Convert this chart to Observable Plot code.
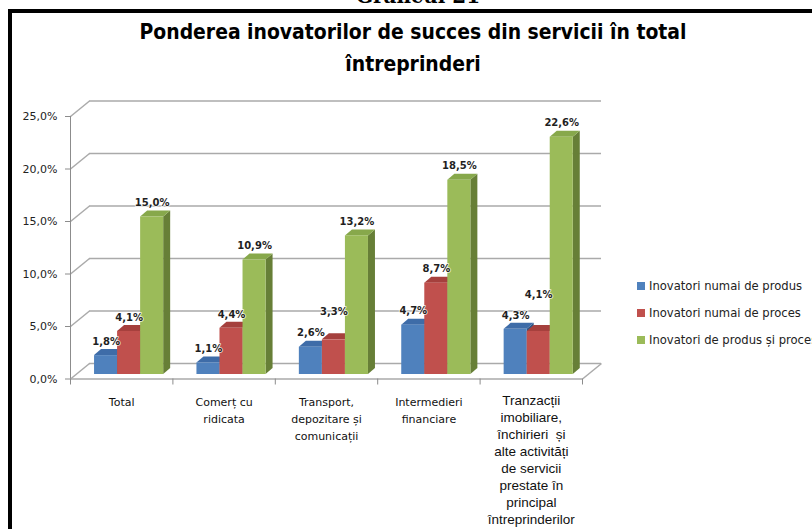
<!DOCTYPE html>
<html>
<head>
<meta charset="utf-8">
<script src="https://cdn.jsdelivr.net/npm/d3@7"></script>
<script src="https://cdn.jsdelivr.net/npm/@observablehq/plot@0.6"></script>
<style>
  body { margin: 0; background: #fff; }
  #wrap { position: relative; width: 812px; height: 529px; overflow: hidden; background: #fff; }
  #graf { position: absolute; left: 0; top: -14px; width: 836px; text-align: center; font: bold 20px/20px "DejaVu Serif", serif; color: #000; }
  #frame { position: absolute; left: 8px; top: 9px; width: 1000px; height: 800px; border: 4px solid #000; box-sizing: border-box; }
  #title { position: absolute; left: 0; top: 16px; width: 826px; text-align: center; font: bold 22px/32px "DejaVu Sans Condensed", "DejaVu Sans", sans-serif; font-stretch: condensed; color: #000; }
  #title div { transform: scaleX(0.95); }
  #chart { position: absolute; left: 0; top: 0; }
  #legend { position: absolute; left: 637px; top: 279px; font: 11.6px "DejaVu Sans", sans-serif; color: #222; white-space: nowrap; }
  #legend div { height: 27px; display: flex; align-items: flex-start; }
  #legend span.sw { display: inline-block; width: 8px; height: 8px; margin: 3px 4px 0 0; flex: none; }
</style>
</head>
<body>
<div id="wrap">
  <div id="frame"></div>
  <div id="graf">Graficul 21</div>
  <div id="title"><div>Ponderea inovatorilor de succes din servicii în total</div><div>întreprinderi</div></div>
  <div id="chart"></div>
  <div id="legend"></div>
</div>
<script>
// ---- data ----
const categories = [
  "Total",
  "Comerț cu\nridicata",
  "Transport,\ndepozitare și\ncomunicații",
  "Intermedieri\nfinanciare",
  "Tranzacții\nimobiliare,\nînchirieri  și\nalte activități\nde servicii\nprestate în\nprincipal\nîntreprinderilor"
];
const seriesNames = ["Inovatori numai de produs", "Inovatori numai de proces", "Inovatori de produs și proces"];
const inovatoriProdus = [1.8, 1.1, 2.6, 4.7, 4.3];
const inovatoriProces = [4.1, 4.4, 3.3, 8.7, 4.1];
const inovatoriProdusSiProces = [15.0, 10.9, 13.2, 18.5, 22.6];
const yTicks = [0, 5, 10, 15, 20, 25];

// ---- styles ----
const FRONT = ["#4F81BD", "#C0504D", "#9BBB59"];
const TOP   = ["#3E6CA8", "#A5403D", "#87A84B"];
const SIDE  = ["#2E5585", "#8A3230", "#677F37"];
const GRID = "#aaaaaa";
const AXIS = "#8c8c8c";

const W = 812, H = 529, mL = 70, mR = 230, mT = 116, mB = 150.5;
const kx = (W - mL - mR) / categories.length;   // px per category
const ky = (H - mT - mB) / 25;                   // px per percent
const WX = 19 / kx, WY = 15.5 / ky;              // wall depth
const BX = 7 / kx, BY = 6 / ky;                  // bar depth
const PX = 5, PY = -4.5;                         // bar plane shift (px)
const BAR0 = 0.186, BARW = 0.225;

const fmt = v => d3.format(".1f")(v).replace(".", ",") + "%";

const seriesValues = [inovatoriProdus, inovatoriProces, inovatoriProdusSiProces];
const bars = [];
categories.forEach((c, i) => {
  seriesValues.forEach((vals, s) => {
    const x0 = i + BAR0 + s * BARW;
    bars.push({id: i * 3 + s, i, s, v: vals[i], x0, x1: x0 + BARW});
  });
});
const sides = bars.flatMap(b => [
  {id: b.id, s: b.s, x: b.x1, y1: 0, y2: b.v},
  {id: b.id, s: b.s, x: b.x1 + BX, y1: BY, y2: b.v + BY}
]);
const tops = bars.flatMap(b => [
  {id: b.id, s: b.s, y: b.v, x1: b.x0, x2: b.x1},
  {id: b.id, s: b.s, y: b.v + BY, x1: b.x0 + BX, x2: b.x1 + BX}
]);
// red labels that would collide with the blue label are lifted above it
const lifted = b => b.s === 1 && Math.abs(b.v - inovatoriProdus[b.i]) < 1.5;

const catIdx = categories.map((c, i) => i);

const plot = Plot.plot({
  width: W, height: H,
  marginLeft: mL, marginRight: mR, marginTop: mT, marginBottom: mB,
  x: {type: "linear", domain: [0, categories.length], axis: null},
  y: {type: "linear", domain: [0, 25], axis: null},
  color: {type: "identity"},
  style: {background: "transparent", fontFamily: "DejaVu Sans, sans-serif", overflow: "visible"},
  marks: [
    // back wall gridlines
    Plot.ruleY(yTicks, {y: d => d + WY, x1: WX, x2: categories.length + WX, stroke: GRID, strokeWidth: 1.5}),
    // side wall gridlines
    Plot.link(yTicks, {x1: 0, y1: d => d, x2: WX, y2: d => d + WY, stroke: GRID, strokeWidth: 1.5}),
    // floor
    Plot.ruleY([0], {x1: 0, x2: categories.length, stroke: GRID, strokeWidth: 1.5}),
    Plot.link([0], {x1: categories.length, y1: 0, x2: categories.length + WX, y2: WY, stroke: GRID, strokeWidth: 1.5}),
    // axis line and ticks
    Plot.ruleX([0], {y1: 0, y2: 25, stroke: AXIS}),
    Plot.ruleY(yTicks, {x1: -5 / kx, x2: 0, stroke: AXIS}),
    Plot.ruleX(d3.range(categories.length + 1), {y1: 0, y2: -6 / ky, stroke: AXIS}),
    // y tick labels
    Plot.text(yTicks, {x: 0, y: d => d, dx: -13, textAnchor: "end", text: fmt, fontSize: 11, fill: "#222"}),
    // bars: sides, tops, fronts
    Plot.areaY(sides, {x: "x", y1: "y1", y2: "y2", z: "id", fill: d => SIDE[d.s], dx: PX, dy: PY, curve: "linear"}),
    Plot.areaX(tops, {y: "y", x1: "x1", x2: "x2", z: "id", fill: d => TOP[d.s], dx: PX, dy: PY, curve: "linear"}),
    Plot.rect(bars, {x1: "x0", x2: "x1", y1: 0, y2: "v", fill: d => FRONT[d.s], dx: PX, dy: PY}),
    // value labels
    Plot.text(bars.filter(b => !lifted(b)), {x: b => (b.x0 + b.x1) / 2, y: "v", text: b => fmt(b.v), dx: PX, dy: PY - 14,
      fontSize: 10, fontWeight: "bold", fill: "#1f1f1f", stroke: "white", strokeWidth: 2, strokeOpacity: 0.7}),
    Plot.text(bars.filter(lifted), {x: b => (b.x0 + b.x1) / 2, y: b => inovatoriProdus[b.i], text: b => fmt(b.v), dx: PX, dy: PY - 14 - 21,
      fontSize: 10, fontWeight: "bold", fill: "#1f1f1f", stroke: "white", strokeWidth: 2, strokeOpacity: 0.7}),
    // category labels
    Plot.text(catIdx.filter(i => i < 4), {x: i => i + 0.5, y: 0, text: i => categories[i], lineAnchor: "top", dy: 15,
      lineHeight: 17 / 11, fontSize: 11, fill: "#111"}),
    Plot.text(catIdx.filter(i => i >= 4), {x: i => i + 0.5, y: 0, text: i => categories[i], lineAnchor: "top", dy: 14,
      lineHeight: 17 / 13.5, fontSize: 13.5, fill: "#111", fontFamily: "Liberation Sans, Arial, sans-serif"})
  ]
});
document.getElementById("chart").appendChild(plot);

// legend
const legend = document.getElementById("legend");
seriesNames.forEach((name, s) => {
  const row = document.createElement("div");
  const sw = document.createElement("span");
  sw.className = "sw";
  sw.style.background = FRONT[s];
  row.appendChild(sw);
  row.appendChild(document.createTextNode(name));
  legend.appendChild(row);
});
</script>
</body>
</html>
